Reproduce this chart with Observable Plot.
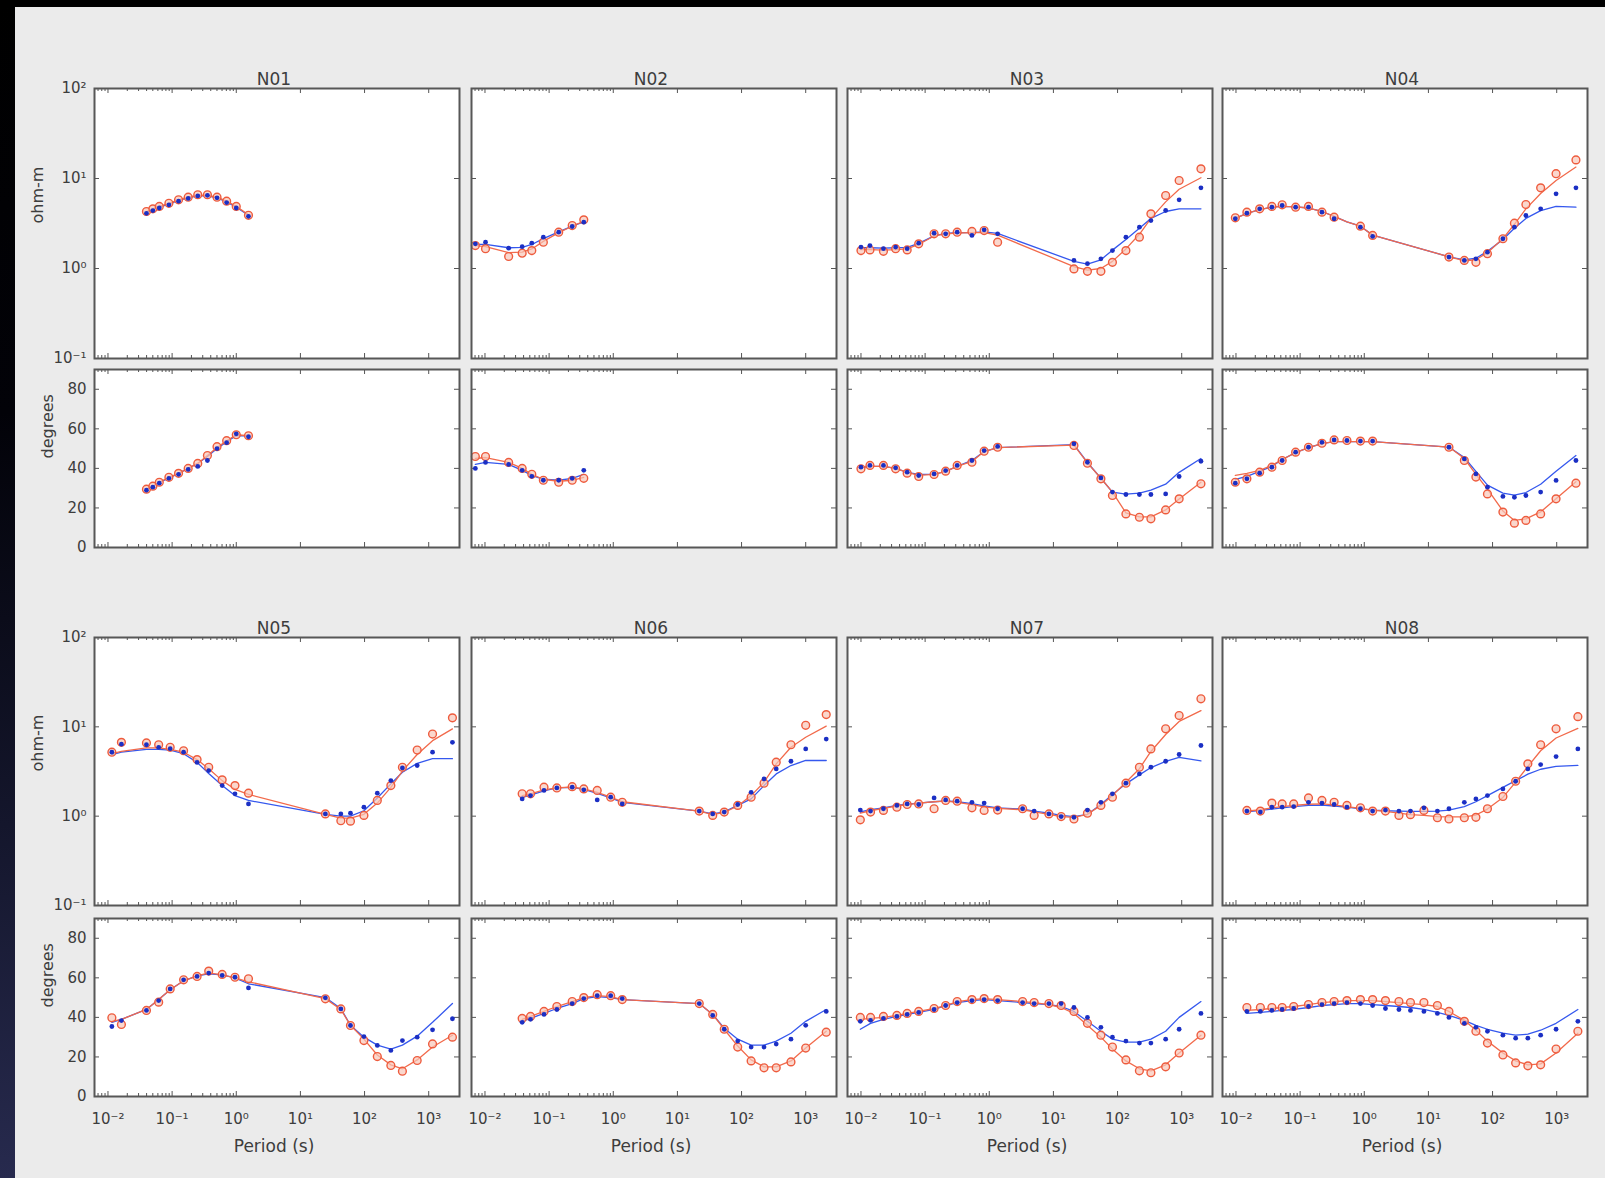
<!DOCTYPE html>
<html>
<head>
<meta charset="utf-8">
<title>MT responses N01–N08</title>
<script src="https://cdn.jsdelivr.net/npm/d3@7"></script>
<script src="https://cdn.jsdelivr.net/npm/@observablehq/plot@0.6"></script>
<style>
  html, body { margin: 0; padding: 0; background: #ebebeb; }
  #fig { position: relative; width: 1605px; height: 1178px; background: #ebebeb; overflow: hidden;
         font-family: "DejaVu Sans", sans-serif; color: #3d3d3d; }
  #edge-left { position: absolute; left: 0; top: 0; width: 15px; height: 1178px;
               background: linear-gradient(to bottom, #000 0%, #020208 35%, #14162c 70%, #272a4e 100%); }
  #edge-top { position: absolute; left: 0; top: 0; width: 1605px; height: 7px; background: #000; }
</style>
</head>
<body>
<div id="fig"><div id="edge-left"></div><div id="edge-top"></div></div>
<script>
// ---- Station data: period (s), apparent resistivity (ohm-m), phase (degrees) ----
// XY = blue dots / blue curve, YX = red circles / red curve; *Fit = model response.

const N01_period   = [0.0398, 0.0501, 0.0631, 0.0891, 0.126, 0.178, 0.251, 0.355, 0.501, 0.708, 1.0, 1.55];
const N01_rhoXY    = [4.1, 4.4, 4.7, 5.1, 5.6, 6.0, 6.4, 6.5, 6.1, 5.4, 4.7, 3.8];
const N01_rhoYX    = [4.3, 4.6, 4.9, 5.3, 5.8, 6.2, 6.6, 6.6, 6.2, 5.6, 4.9, 3.9];
const N01_rhoXYFit = [4.2, 4.5, 4.8, 5.2, 5.7, 6.1, 6.4, 6.4, 6.1, 5.5, 4.8, 3.9];
const N01_rhoYXFit = [4.3, 4.6, 4.9, 5.3, 5.8, 6.2, 6.5, 6.5, 6.2, 5.6, 4.9, 3.95];
const N01_phiXY    = [29, 30.5, 32.5, 35, 37, 39.5, 41, 44, 50, 53, 57.5, 56];
const N01_phiYX    = [29.5, 31, 33, 35.5, 37.5, 40, 42.5, 46.5, 51, 54, 57, 56.5];
const N01_phiXYFit = [29.5, 31, 33, 35, 37.5, 40, 42.5, 46, 50, 53.5, 56.5, 56.5];
const N01_phiYXFit = [29.5, 31, 33, 35.5, 37.5, 40, 42.5, 46.5, 50.5, 54, 57, 56.5];

const N02_period   = [0.00708, 0.0102, 0.0234, 0.038, 0.0537, 0.0813, 0.141, 0.229, 0.347];
const N02_rhoXY    = [1.88, 1.96, 1.68, 1.75, 1.91, 2.23, 2.53, 2.93, 3.27];
const N02_rhoYX    = [1.80, 1.66, 1.36, 1.48, 1.58, 1.96, 2.53, 3.0, 3.47];
const N02_rhoXYFit = [1.85, 1.85, 1.7, 1.72, 1.85, 2.15, 2.55, 2.95, 3.3];
const N02_rhoYXFit = [1.8, 1.75, 1.5, 1.52, 1.65, 2.0, 2.5, 2.95, 3.35];
const N02_phiXY    = [40, 43, 42, 39, 36, 34, 34, 35, 39];
const N02_phiYX    = [46, 46, 43, 40, 37, 34, 33, 34, 35];
const N02_phiXYFit = [42, 43, 42, 39, 36.5, 34.5, 34, 35, 37];
const N02_phiYXFit = [45, 45.5, 43, 40, 37, 34.5, 33.5, 34, 35.5];

const N03_period   = [0.01, 0.0138, 0.0224, 0.0347, 0.0525, 0.0794, 0.138, 0.209, 0.316, 0.537, 0.832, 1.35,
                      20.9, 33.9, 55.0, 83.2, 135, 219, 331, 562, 912, 1995];
const N03_rhoXY    = [1.73, 1.80, 1.66, 1.73, 1.66, 1.91, 2.47, 2.43, 2.53, 2.33, 2.69, 2.43,
                      1.23, 1.13, 1.28, 1.58, 2.23, 2.88, 3.41, 4.41, 5.80, 7.87];
const N03_rhoYX    = [1.58, 1.61, 1.55, 1.66, 1.61, 1.88, 2.43, 2.43, 2.53, 2.58, 2.64, 1.96,
                      0.99, 0.93, 0.93, 1.17, 1.58, 2.23, 4.05, 6.47, 9.5, 12.8];
const N03_rhoXYFit = [1.70, 1.70, 1.68, 1.70, 1.72, 1.9, 2.3, 2.45, 2.5, 2.5, 2.55, 2.45,
                      1.2, 1.12, 1.25, 1.6, 2.1, 2.8, 3.6, 4.3, 4.6, 4.6];
const N03_rhoYXFit = [1.62, 1.62, 1.60, 1.62, 1.65, 1.85, 2.3, 2.42, 2.48, 2.5, 2.5, 2.35,
                      1.05, 0.96, 1.0, 1.2, 1.65, 2.4, 3.6, 5.5, 7.6, 10.2];
const N03_phiXY    = [40.6, 41.5, 41.5, 40.3, 38.1, 36.4, 37.2, 38.9, 41.5, 44.0, 49.0, 51.1,
                      52.4, 43.1, 35.2, 28.0, 26.8, 26.8, 26.8, 27.1, 35.9, 43.6];
const N03_phiYX    = [39.8, 41.5, 41.5, 39.8, 37.6, 35.9, 36.9, 38.6, 41.5, 43.1, 48.7, 50.7,
                      51.6, 42.6, 34.7, 26.3, 17.0, 15.3, 14.5, 19.0, 24.6, 32.2];
const N03_phiXYFit = [40.5, 41, 41, 40, 38, 37, 37, 38.5, 41, 44, 48.5, 50.5,
                      52, 43, 35, 28, 27, 27.5, 29, 32, 38, 45];
const N03_phiYXFit = [40.3, 41, 41, 40, 38, 36.5, 37, 38.5, 41, 43.5, 48.5, 50.5,
                      51.8, 42.8, 35, 28, 17.5, 15.5, 15.5, 19, 24.5, 33];

const N04_period   = [0.00977, 0.0148, 0.0234, 0.0363, 0.0525, 0.0851, 0.135, 0.219, 0.339, 0.537, 0.871, 1.35,
                      20.9, 36.3, 55.0, 83.2, 145, 219, 331, 562, 977, 1995];
const N04_rhoXY    = [3.57, 4.12, 4.60, 4.80, 5.01, 4.80, 4.80, 4.23, 3.57, null, 2.88, 2.27,
                      1.34, 1.23, 1.28, 1.52, 2.14, 2.88, 3.88, 4.60, 6.76, 7.87];
const N04_rhoYX    = [3.66, 4.23, 4.60, 4.89, 5.10, 4.80, 4.89, 4.23, 3.72, null, 2.95, 2.33,
                      1.34, 1.23, 1.17, 1.46, 2.14, 3.19, 5.14, 7.87, 11.3, 16.1];
const N04_rhoXYFit = [3.6, 4.1, 4.5, 4.8, 4.9, 4.85, 4.7, 4.3, 3.8, 3.3, 2.95, 2.35,
                      1.35, 1.25, 1.3, 1.55, 2.1, 2.8, 3.6, 4.4, 4.9, 4.8];
const N04_rhoYXFit = [3.6, 4.1, 4.5, 4.8, 4.9, 4.85, 4.7, 4.3, 3.8, 3.3, 2.95, 2.35,
                      1.35, 1.22, 1.25, 1.5, 2.15, 3.1, 4.6, 6.8, 9.5, 13.4];
const N04_phiXY    = [32.5, 34.7, 37.6, 40.6, 44.0, 48.2, 50.7, 53.2, 54.4, 54.1, 53.8, 53.8,
                      50.7, 44.8, 37.2, 30.5, 25.8, 25.4, 26.3, 28.0, 33.9, 44.0];
const N04_phiYX    = [33.0, 34.7, 38.1, 40.6, 44.0, 48.2, 50.7, 52.7, 54.4, 54.1, 53.8, 53.8,
                      50.7, 44.0, 35.6, 27.1, 17.9, 12.3, 13.7, 17.0, 24.6, 32.5];
const N04_phiXYFit = [34.5, 36, 38.5, 41, 44.5, 48, 50.5, 52.5, 53.5, 53.5, 53.5, 53.5,
                      50.8, 45.5, 38.5, 31.5, 27.5, 26.5, 27.8, 32, 38.5, 46.5];
const N04_phiYXFit = [36.5, 37.5, 39, 41.5, 44.5, 48, 50.5, 52.5, 53.5, 53.5, 53.5, 53.5,
                      50.8, 45, 37, 29.5, 18.5, 13.7, 14.5, 18, 24.6, 33.3];

const N05_period   = [0.0115, 0.0162, 0.0398, 0.0617, 0.0933, 0.151, 0.245, 0.372, 0.603, 0.955, 1.55,
                      24.5, 42.7, 60.3, 97.7, 158, 257, 389, 661, 1148, 2344];
const N05_rhoXY    = [5.2, 6.4, 6.3, 5.9, 5.7, 5.2, 4.0, 3.24, 2.20, 1.78, 1.37,
                      1.06, 1.06, 1.08, 1.26, 1.81, 2.50, 3.47, 3.69, 5.2, 6.7];
const N05_rhoYX    = [5.2, 6.7, 6.6, 6.3, 5.9, 5.4, 4.3, 3.53, 2.55, 2.20, 1.81,
                      1.06, 0.89, 0.88, 1.02, 1.50, 2.20, 3.53, 5.5, 8.3, 12.6];
const N05_rhoXYFit = [4.9, 5.2, 5.6, 5.6, 5.5, 5.0, 4.0, 3.0, 2.2, 1.7, 1.5,
                      1.05, 1.0, 1.0, 1.15, 1.6, 2.3, 3.1, 3.9, 4.4, 4.4];
const N05_rhoYXFit = [5.0, 5.3, 5.8, 5.8, 5.6, 5.2, 4.3, 3.4, 2.5, 2.0, 1.75,
                      1.05, 0.95, 0.95, 1.05, 1.4, 2.1, 3.2, 4.9, 7.0, 9.5];
const N05_phiXY    = [35.4, 38.4, 43.5, 48.5, 54.4, 59.0, 60.7, 62.4, 61.2, 60.3, 54.9,
                      49.9, 44.3, 35.9, 30.3, 25.8, 23.3, 28.3, 30.0, 33.7, 39.3];
const N05_phiYX    = [39.8, 36.4, 43.5, 47.7, 54.4, 59.0, 60.7, 63.4, 61.7, 60.3, 59.5,
                      49.4, 44.3, 35.9, 28.3, 20.2, 15.7, 12.8, 18.2, 26.6, 30.0];
const N05_phiXYFit = [37.5, 39, 44, 49, 54, 58.5, 61, 62, 61.5, 60, 57,
                      50, 44.5, 36, 30, 26, 24, 26, 30.5, 37.5, 47];
const N05_phiYXFit = [38, 39, 44, 49, 54, 58.5, 61, 62.5, 61.5, 60, 58,
                      49.5, 44, 36, 29, 21, 16, 14, 18.5, 25, 31];

const N06_period   = [0.038, 0.0513, 0.0832, 0.132, 0.229, 0.347, 0.562, 0.912, 1.38,
                      21.9, 35.5, 53.7, 87.1, 141, 224, 347, 589, 1000, 2089];
const N06_rhoXY    = [1.56, 1.70, 1.94, 2.07, 2.11, 1.97, 1.52, 1.63, 1.37,
                      1.14, 1.06, 1.11, 1.35, 1.85, 2.61, 3.38, 4.12, 5.66, 7.3];
const N06_rhoYX    = [1.78, 1.78, 2.11, 2.07, 2.14, 2.02, 1.94, 1.63, 1.43,
                      1.14, 1.02, 1.11, 1.32, 1.63, 2.34, 4.02, 6.3, 10.4, 13.7];
const N06_rhoXYFit = [1.62, 1.72, 1.92, 2.07, 2.1, 2.0, 1.8, 1.6, 1.43,
                      1.14, 1.06, 1.12, 1.32, 1.56, 2.2, 2.97, 3.69, 4.2, 4.2];
const N06_rhoYXFit = [1.70, 1.78, 1.97, 2.07, 2.12, 2.02, 1.85, 1.63, 1.45,
                      1.14, 1.04, 1.10, 1.30, 1.70, 2.40, 3.85, 5.9, 7.65, 10.2];
const N06_phiXY    = [37.5, 39, 41.5, 44, 47, 49.5, 51, 51, 49.5,
                      47, 41, 34, 28, 25, 25, 26.5, 29, 36, 43];
const N06_phiYX    = [39.5, 40.5, 43, 45.5, 48, 50, 51.5, 51, 49,
                      47, 41.5, 34, 25, 18, 14.5, 14.5, 17.5, 24.5, 32.5];
const N06_phiXYFit = [38, 39.5, 42, 44.5, 47, 49.5, 50.5, 50, 49,
                      47, 41.5, 34.5, 29, 26, 26, 28, 32, 38, 44];
const N06_phiYXFit = [39, 40.5, 43, 45.5, 48, 50, 51, 50.5, 49,
                      47, 41.5, 34, 25.5, 18.5, 15, 15, 18, 24.5, 33];

const N07_period   = [0.00977, 0.0141, 0.0224, 0.0363, 0.0525, 0.0794, 0.138, 0.209, 0.316, 0.537, 0.832, 1.35,
                      3.31, 5.01, 8.51, 13.2, 20.9, 33.9, 55.0, 83.2, 135, 219, 331, 562, 912, 1995];
const N07_rhoXY    = [1.17, 1.14, 1.21, 1.32, 1.37, 1.35, 1.60, 1.52, 1.47, 1.43, 1.40, 1.21,
                      1.21, 1.14, 1.06, 0.99, 0.97, 1.17, 1.43, 1.78, 2.34, 2.97, 3.53, 4.12, 4.9, 6.18];
const N07_rhoYX    = [0.91, 1.11, 1.16, 1.26, 1.35, 1.37, 1.21, 1.50, 1.47, 1.24, 1.16, 1.17,
                      1.21, 1.02, 1.06, 0.99, 0.93, 1.08, 1.32, 1.63, 2.34, 3.53, 5.66, 9.5, 13.4, 20.6];
const N07_rhoXYFit = [1.12, 1.18, 1.24, 1.32, 1.36, 1.4, 1.45, 1.48, 1.45, 1.38, 1.3, 1.24,
                      1.2, 1.14, 1.08, 1.02, 0.99, 1.05, 1.35, 1.75, 2.3, 2.9, 3.5, 4.1, 4.55, 4.15];
const N07_rhoYXFit = [1.08, 1.15, 1.22, 1.3, 1.35, 1.4, 1.45, 1.47, 1.43, 1.35, 1.27, 1.22,
                      1.18, 1.12, 1.05, 0.99, 0.97, 1.05, 1.32, 1.7, 2.4, 3.4, 5.3, 8.2, 11.5, 15.2];
const N07_phiXY    = [38, 38.5, 39.5, 40.5, 41.5, 42.5, 44, 46, 47.5, 48.5, 49, 48.5,
                      47.5, 47, 47, 47, 45, 40, 35, 30, 28, 27, 27, 29, 34, 42];
const N07_phiYX    = [40, 40, 40.5, 41, 42, 43, 44.5, 46, 48, 49, 49.5, 49,
                      48, 47.5, 47, 46, 43, 37, 31, 25, 18.5, 13, 12, 15, 22, 31];
const N07_phiXYFit = [34, 37, 39, 40.5, 41.5, 42.5, 44, 46, 47.5, 48.5, 49, 48.5,
                      47.5, 47, 46.5, 45.5, 43, 38, 33, 29, 27.5, 27.5, 29, 33, 40, 48];
const N07_phiYXFit = [39, 39.5, 40, 41, 42, 43, 44.5, 46, 48, 49, 49.5, 49,
                      48, 47.5, 46.5, 45, 42, 36, 30, 24, 18, 14, 13, 16, 22, 31];

const N08_period   = [0.0148, 0.024, 0.0363, 0.0525, 0.0794, 0.135, 0.219, 0.339, 0.537, 0.871, 1.35, 2.14,
                      3.47, 5.25, 8.51, 13.8, 20.9, 36.3, 55.0, 83.2, 145, 229, 355, 562, 977, 2138];
const N08_rhoXY    = [1.14, 1.11, 1.26, 1.26, 1.28, 1.43, 1.40, 1.35, 1.26, 1.21, 1.14, 1.17,
                      1.14, 1.14, 1.24, 1.14, 1.21, 1.43, 1.56, 1.70, 2.02, 2.46, 3.38, 3.78, 4.65, 5.66];
const N08_rhoYX    = [1.16, 1.14, 1.40, 1.37, 1.37, 1.60, 1.50, 1.43, 1.32, 1.24, 1.14, 1.14,
                      1.02, 1.04, 1.16, 0.96, 0.93, 0.96, 0.97, 1.21, 1.66, 2.46, 3.85, 6.3, 9.5, 13.0];
const N08_rhoXYFit = [1.12, 1.16, 1.2, 1.24, 1.28, 1.32, 1.33, 1.3, 1.26, 1.21, 1.17, 1.15,
                      1.14, 1.13, 1.13, 1.14, 1.17, 1.28, 1.45, 1.7, 2.1, 2.5, 2.95, 3.35, 3.6, 3.7];
const N08_rhoYXFit = [1.14, 1.18, 1.24, 1.28, 1.32, 1.36, 1.37, 1.34, 1.28, 1.22, 1.17, 1.13,
                      1.08, 1.04, 1.02, 0.99, 0.98, 0.98, 1.03, 1.2, 1.62, 2.4, 3.6, 5.4, 7.5, 9.6];
const N08_phiXY    = [43, 43, 43.5, 44, 44.5, 45.5, 46.5, 47, 47.5, 47, 46, 44.5,
                      44, 43.5, 43, 42, 40, 37, 35, 33, 31, 29.5, 29.5, 31, 34, 38];
const N08_phiYX    = [45, 45, 45, 45, 45.5, 46.5, 47.5, 48, 48.5, 49, 49, 48.5,
                      48, 47.5, 47.5, 46, 43, 38, 33, 27, 21, 17, 15.5, 16, 24, 33];
const N08_phiXYFit = [42, 42.5, 43, 43.5, 44, 45, 46, 46.5, 47, 47, 46.5, 46,
                      45.5, 45, 44, 42.5, 41, 38.5, 36, 34, 32, 31, 31.5, 33.5, 37, 44];
const N08_phiYXFit = [43.5, 44, 44.5, 45, 45.5, 46.5, 47.5, 48, 48.5, 48.5, 48.5, 48,
                      47.5, 47, 46.5, 45.5, 43, 38.5, 33.5, 28, 22, 18, 16, 16.5, 22, 32];

// ---- Axes ----
const X_DOMAIN   = [10 ** -2.21, 10 ** 3.48];
const X_TICKS    = [0.01, 0.1, 1, 10, 100, 1000];
const RHO_DOMAIN = [0.1, 100];
const RHO_TICKS  = [0.1, 1, 10, 100];
const PHI_DOMAIN = [0, 90];
const PHI_TICKS  = [0, 20, 40, 60, 80];

// minor period ticks drawn on the short-period decades only
const X_MINOR = [0.001, 0.01, 0.1].flatMap(d => d3.range(2, 10).map(k => k * d))
  .filter(v => v > X_DOMAIN[0] && v < 1);

// ---- Layout ----
const COL_LEFT = [94, 471, 847, 1222];
const PANEL_W = 365;
const BLOCKS = [
  {rhoTop: 88,  rhoH: 270, phiTop: 369, phiH: 178},
  {rhoTop: 637, rhoH: 268, phiTop: 918, phiH: 178}
];

const BLUE_LINE = "#3558ee", BLUE_DOT = "#1b2fc4";
const RED_LINE = "#f26a4b", RED_RING = "#ee5b3d", RED_FILL = "#f8c6b8";
const FRAME = "#575757", TICK = "#555";

const stations = [
  {name: "N01", period: N01_period, rhoXY: N01_rhoXY, rhoYX: N01_rhoYX, rhoXYFit: N01_rhoXYFit, rhoYXFit: N01_rhoYXFit, phiXY: N01_phiXY, phiYX: N01_phiYX, phiXYFit: N01_phiXYFit, phiYXFit: N01_phiYXFit},
  {name: "N02", period: N02_period, rhoXY: N02_rhoXY, rhoYX: N02_rhoYX, rhoXYFit: N02_rhoXYFit, rhoYXFit: N02_rhoYXFit, phiXY: N02_phiXY, phiYX: N02_phiYX, phiXYFit: N02_phiXYFit, phiYXFit: N02_phiYXFit},
  {name: "N03", period: N03_period, rhoXY: N03_rhoXY, rhoYX: N03_rhoYX, rhoXYFit: N03_rhoXYFit, rhoYXFit: N03_rhoYXFit, phiXY: N03_phiXY, phiYX: N03_phiYX, phiXYFit: N03_phiXYFit, phiYXFit: N03_phiYXFit},
  {name: "N04", period: N04_period, rhoXY: N04_rhoXY, rhoYX: N04_rhoYX, rhoXYFit: N04_rhoXYFit, rhoYXFit: N04_rhoYXFit, phiXY: N04_phiXY, phiYX: N04_phiYX, phiXYFit: N04_phiXYFit, phiYXFit: N04_phiYXFit},
  {name: "N05", period: N05_period, rhoXY: N05_rhoXY, rhoYX: N05_rhoYX, rhoXYFit: N05_rhoXYFit, rhoYXFit: N05_rhoYXFit, phiXY: N05_phiXY, phiYX: N05_phiYX, phiXYFit: N05_phiXYFit, phiYXFit: N05_phiYXFit},
  {name: "N06", period: N06_period, rhoXY: N06_rhoXY, rhoYX: N06_rhoYX, rhoXYFit: N06_rhoXYFit, rhoYXFit: N06_rhoYXFit, phiXY: N06_phiXY, phiYX: N06_phiYX, phiXYFit: N06_phiXYFit, phiYXFit: N06_phiYXFit},
  {name: "N07", period: N07_period, rhoXY: N07_rhoXY, rhoYX: N07_rhoYX, rhoXYFit: N07_rhoXYFit, rhoYXFit: N07_rhoYXFit, phiXY: N07_phiXY, phiYX: N07_phiYX, phiXYFit: N07_phiXYFit, phiYXFit: N07_phiYXFit},
  {name: "N08", period: N08_period, rhoXY: N08_rhoXY, rhoYX: N08_rhoYX, rhoXYFit: N08_rhoXYFit, rhoYXFit: N08_rhoYXFit, phiXY: N08_phiXY, phiYX: N08_phiYX, phiXYFit: N08_phiXYFit, phiYXFit: N08_phiYXFit}
];

const SUP = {"-": "\u207B", "0": "\u2070", "1": "\u00B9", "2": "\u00B2", "3": "\u00B3"};
const powerLabel = d => "10" + String(Math.round(Math.log10(d))).split("").map(c => SUP[c]).join("");

function series(st, key) {
  return st.period.map((p, i) => ({period: p, value: st[key][i]})).filter(d => d.value != null);
}

function panel(st, index, kind) {
  const col = index % 4, block = Math.floor(index / 4);
  const isRho = kind === "rho";
  const B = BLOCKS[block];
  const top = isRho ? B.rhoTop : B.phiTop;
  const h = isRho ? B.rhoH : B.phiH;
  const firstCol = col === 0;
  const xLabels = !isRho && block === 1;
  const mL = firstCol ? 94 : 8, mR = 8, mT = isRho ? 26 : 8, mB = xLabels ? 72 : 8;
  const yTicks = isRho ? RHO_TICKS : PHI_TICKS;
  const pre = isRho ? "rho" : "phi";

  const marks = [
    Plot.frame({fill: "white", stroke: null}),
    // inward major/minor ticks on all four sides
    Plot.ruleX(X_TICKS, {stroke: TICK, strokeWidth: 1, insetTop: h - 5}),
    Plot.ruleX(X_TICKS, {stroke: TICK, strokeWidth: 1, insetBottom: h - 5}),
    Plot.ruleX(X_MINOR, {stroke: TICK, strokeWidth: 1, insetTop: h - 3}),
    Plot.ruleX(X_MINOR, {stroke: TICK, strokeWidth: 1, insetBottom: h - 3}),
    Plot.ruleY(yTicks, {stroke: TICK, strokeWidth: 1, insetRight: PANEL_W - 5}),
    Plot.ruleY(yTicks, {stroke: TICK, strokeWidth: 1, insetLeft: PANEL_W - 5}),
    // model curves
    Plot.line(series(st, pre + "XYFit"), {x: "period", y: "value", stroke: BLUE_LINE, strokeWidth: 1.3}),
    Plot.line(series(st, pre + "YXFit"), {x: "period", y: "value", stroke: RED_LINE, strokeWidth: 1.3}),
    // observed responses
    Plot.dot(series(st, pre + "YX"), {x: "period", y: "value", r: 3.9, stroke: RED_RING, strokeWidth: 1.4, fill: RED_FILL, fillOpacity: 0.7}),
    Plot.dot(series(st, pre + "XY"), {x: "period", y: "value", r: 2.4, fill: BLUE_DOT, stroke: null}),
    Plot.frame({stroke: FRAME, strokeWidth: 2})
  ];

  if (isRho) {
    marks.push(Plot.text([st.name], {text: d => d, frameAnchor: "top", dx: -3, dy: -9, lineAnchor: "middle", fontSize: 17}));
  }
  if (firstCol) {
    marks.push(Plot.axisY(yTicks, {anchor: "left", tickSize: 0, tickPadding: 8, tickFormat: isRho ? powerLabel : d => String(d), label: null}));
    marks.push(Plot.text([isRho ? "ohm-m" : "degrees"], {text: d => d, frameAnchor: "left", rotate: -90, dx: isRho ? -57 : -47, lineAnchor: "middle", fontSize: 16}));
  }
  if (xLabels) {
    marks.push(Plot.axisX(X_TICKS, {anchor: "bottom", tickSize: 0, tickPadding: 17, tickFormat: powerLabel, label: null}));
    marks.push(Plot.text(["Period (s)"], {text: d => d, frameAnchor: "bottom", dx: -3, dy: 50, lineAnchor: "middle", fontSize: 17}));
  }

  const svg = Plot.plot({
    width: PANEL_W + mL + mR,
    height: h + mT + mB,
    marginLeft: mL, marginRight: mR, marginTop: mT, marginBottom: mB,
    x: {type: "log", domain: X_DOMAIN, label: null, ...(xLabels ? {} : {axis: null})},
    y: isRho
      ? {type: "log", domain: RHO_DOMAIN, label: null, ...(firstCol ? {} : {axis: null})}
      : {type: "linear", domain: PHI_DOMAIN, label: null, ...(firstCol ? {} : {axis: null})},
    style: {background: "transparent", fontFamily: "'DejaVu Sans', sans-serif", fontSize: "15px", color: "#3d3d3d", overflow: "visible"},
    marks
  });
  svg.style.position = "absolute";
  svg.style.left = (COL_LEFT[col] - mL) + "px";
  svg.style.top = (top - mT) + "px";
  svg.style.maxWidth = "none";
  document.getElementById("fig").appendChild(svg);
}

stations.forEach((st, i) => {
  panel(st, i, "rho");
  panel(st, i, "phi");
});
</script>
</body>
</html>
